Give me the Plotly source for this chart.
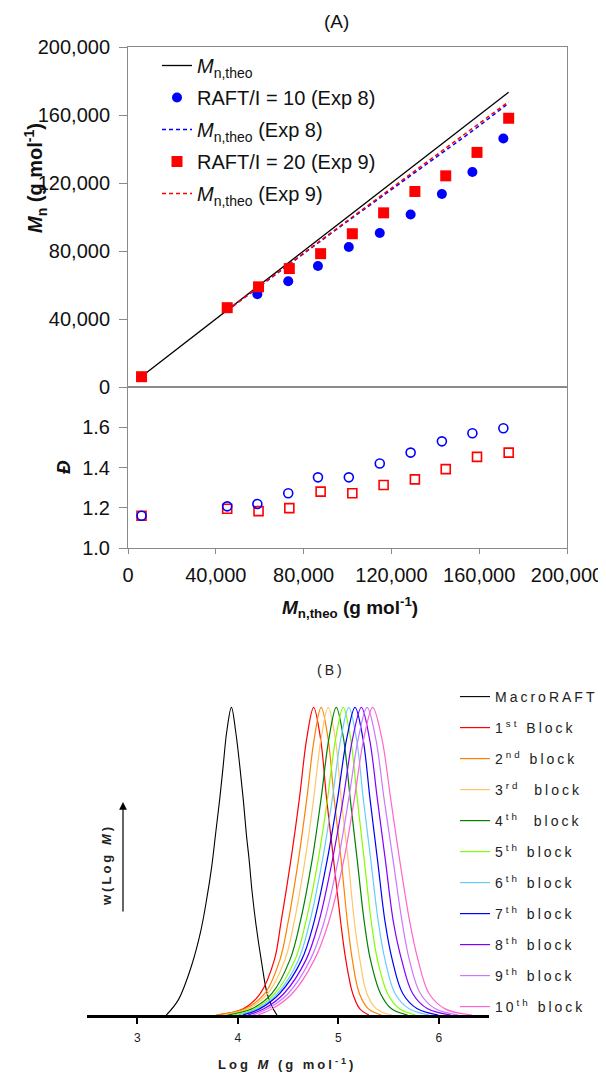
import plotly.graph_objects as go

W, H = 606, 1076
OFF = 8  # the page body adds an 8px margin around the plot div
FONT = "Liberation Sans, Arial, sans-serif"

# ── (A) data ─────────────────────────────────────────────────────────────────
theo_x = [6170, 45200, 59470, 73500, 87760, 102200, 116450, 130700, 144750, 159000, 173400]
theo_y = [6170, 45200, 59470, 73500, 87760, 102200, 116450, 130700, 144750, 159000, 173400]

exp8_x = [6170, 45200, 58930, 73000, 86540, 100600, 114700, 128760, 143000, 156900, 171000]
exp8_mn = [6060, 46650, 54630, 62240, 71220, 82340, 90540, 101460, 113500, 126500, 146200]
exp8_disp = [1.16, 1.207, 1.219, 1.272, 1.351, 1.351, 1.42, 1.474, 1.53, 1.57, 1.595]
exp8_theo_x = [45200, 58930, 73000, 86540, 100600, 114700, 128760, 143000, 156900, 172400]
exp8_theo_y = [45000, 58300, 71800, 84700, 98000, 111300, 124500, 137700, 150600, 165900]

exp9_x = [6170, 45200, 59470, 73500, 87760, 102200, 116450, 130700, 144750, 159000, 173430]
exp9_mn = [6060, 46650, 58930, 69660, 78440, 90150, 102440, 115020, 124210, 137990, 158090]
exp9_disp = [1.16, 1.195, 1.183, 1.198, 1.28, 1.272, 1.313, 1.341, 1.392, 1.453, 1.474]
exp9_theo_x = [45200, 59470, 73500, 87760, 102200, 116450, 130700, 144750, 159000, 173400]
exp9_theo_y = [45100, 59000, 72600, 86200, 100000, 113700, 127300, 140700, 154100, 167800]

mn_ticks = [0, 40000, 80000, 120000, 160000, 200000]
disp_ticks = [1.0, 1.2, 1.4, 1.6]

# ── (B) data: GPC traces ─────────────────────────────────────────────────────
macro_x = [3.29, 3.41, 3.54, 3.63, 3.69, 3.74, 3.78, 3.82, 3.855, 3.89, 3.937,
           3.98, 4.02, 4.055, 4.085, 4.113, 4.143, 4.183, 4.233, 4.292, 4.342, 4.39]
macro_w = [0, 0.05, 0.16, 0.27, 0.375, 0.48, 0.59, 0.70, 0.81, 0.92, 1.0,
           0.92, 0.81, 0.70, 0.59, 0.505, 0.40, 0.29, 0.18, 0.07, 0.027, 0]

block_w = [0, 0.02, 0.07, 0.18, 0.3, 0.5, 0.7, 0.9, 1.0, 0.9, 0.7, 0.5, 0.3, 0.18, 0.07, 0.02, 0]
block_x = [
    [3.795, 4.055, 4.225, 4.365, 4.43, 4.527, 4.612, 4.687, 4.755, 4.823, 4.885, 4.955, 5.025, 5.075, 5.144, 5.215, 5.305],
    [3.78, 4.07, 4.27, 4.42, 4.50, 4.602, 4.686, 4.762, 4.83, 4.898, 4.96, 5.03, 5.092, 5.14, 5.21, 5.30, 5.43],
    [3.85, 4.10, 4.30, 4.47, 4.56, 4.668, 4.754, 4.83, 4.90, 4.97, 5.03, 5.10, 5.162, 5.215, 5.285, 5.38, 5.53],
    [3.90, 4.14, 4.34, 4.52, 4.62, 4.738, 4.828, 4.908, 4.98, 5.052, 5.12, 5.19, 5.26, 5.32, 5.42, 5.53, 5.69],
    [3.95, 4.17, 4.37, 4.57, 4.675, 4.798, 4.892, 4.975, 5.05, 5.122, 5.19, 5.26, 5.33, 5.39, 5.49, 5.61, 5.77],
    [4.00, 4.195, 4.395, 4.605, 4.715, 4.841, 4.94, 5.027, 5.105, 5.18, 5.25, 5.325, 5.40, 5.465, 5.565, 5.705, 5.905],
    [4.05, 4.217, 4.417, 4.637, 4.757, 4.888, 4.992, 5.085, 5.167, 5.245, 5.317, 5.392, 5.467, 5.537, 5.642, 5.787, 5.997],
    [4.10, 4.26, 4.46, 4.68, 4.805, 4.94, 5.048, 5.144, 5.23, 5.31, 5.39, 5.47, 5.55, 5.63, 5.74, 5.89, 6.12],
    [4.15, 4.297, 4.502, 4.722, 4.857, 4.997, 5.103, 5.20, 5.287, 5.372, 5.457, 5.547, 5.637, 5.707, 5.817, 5.967, 6.197],
    [4.20, 4.343, 4.543, 4.763, 4.903, 5.053, 5.159, 5.255, 5.343, 5.433, 5.523, 5.613, 5.713, 5.793, 5.903, 6.063, 6.333],
]
block_names = ["1<sup>st</sup> Block", "2<sup>nd</sup> block", "3<sup>rd</sup>&nbsp; block",
               "4<sup>th</sup>&nbsp; block", "5<sup>th</sup> block", "6<sup>th</sup> block",
               "7<sup>th</sup> block", "8<sup>th</sup> block", "9<sup>th</sup> block",
               "10<sup>th</sup> block"]
block_colors = ["#FF0000", "#FF8000", "#FFC566", "#008000", "#80FF00",
                "#66CCFF", "#0000FF", "#8000FF", "#CC77FF", "#FF66CC"]
logm_ticks = [3, 4, 5, 6]


def px(x):
    return (x - OFF) / W


def py(y):
    return 1 - (y - OFF) / H


def sp(text, gap=3):
    return f"<span style='letter-spacing:{gap}px'>{text}</span>"


MN = "<i>M</i><sub>n,theo</sub>"

fig = go.Figure()

# top panel
fig.add_trace(go.Scatter(x=theo_x, y=theo_y, mode='lines', name=MN, legendgroup='a1',
                         line=dict(color='black', width=1.3), xaxis='x', yaxis='y'))
fig.add_trace(go.Scatter(x=exp8_x, y=exp8_mn, mode='markers', name='RAFT/I = 10 (Exp 8)',
                         legendgroup='a2',
                         marker=dict(color='#0000FF', size=10, symbol='circle'),
                         xaxis='x', yaxis='y'))
fig.add_trace(go.Scatter(x=exp8_theo_x, y=exp8_theo_y, mode='lines', name=MN + ' (Exp 8)',
                         legendgroup='a3',
                         line=dict(color='#0000FF', width=1.5, dash='4px,3px'),
                         xaxis='x', yaxis='y'))
fig.add_trace(go.Scatter(x=exp9_x, y=exp9_mn, mode='markers', name='RAFT/I = 20 (Exp 9)',
                         legendgroup='a4',
                         marker=dict(color='#FF0000', size=11, symbol='square'),
                         xaxis='x', yaxis='y'))
fig.add_trace(go.Scatter(x=exp9_theo_x, y=exp9_theo_y, mode='lines', name=MN + ' (Exp 9)',
                         legendgroup='a5',
                         line=dict(color='#FF0000', width=1.5, dash='4px,3px'),
                         xaxis='x', yaxis='y'))

# bottom panel (dispersity)
fig.add_trace(go.Scatter(x=exp9_x, y=exp9_disp, mode='markers', showlegend=False,
                         marker=dict(color='rgba(0,0,0,0)', size=9, symbol='square',
                                     line=dict(color='#FF0000', width=1.6)),
                         xaxis='x2', yaxis='y2'))
fig.add_trace(go.Scatter(x=exp8_x, y=exp8_disp, mode='markers', showlegend=False,
                         marker=dict(color='rgba(0,0,0,0)', size=9, symbol='circle',
                                     line=dict(color='#0000FF', width=1.6)),
                         xaxis='x2', yaxis='y2'))

# (B) GPC traces
fig.add_trace(go.Scatter(x=macro_x, y=macro_w, mode='lines', name=sp('MacroRAFT'),
                         legendgroup='b0',
                         line=dict(color='black', width=1.1, shape='spline'),
                         xaxis='x3', yaxis='y3', legend='legend2'))
for i, (xs, name, col) in enumerate(zip(block_x, block_names, block_colors)):
    fig.add_trace(go.Scatter(x=xs, y=block_w, mode='lines', name=sp(name),
                             legendgroup=f'b{i + 1}',
                             line=dict(color=col, width=1.2, shape='spline'),
                             xaxis='x3', yaxis='y3', legend='legend2'))

axis_a = dict(showgrid=False, zeroline=False, showline=True, mirror=True,
              linecolor='#8a8a8a', linewidth=1, tickcolor='#8a8a8a',
              tickfont=dict(size=20, color='#111', family=FONT), automargin=False)

fig.update_layout(
    width=W, height=H,
    margin=dict(l=0, r=0, t=0, b=0),
    paper_bgcolor='white', plot_bgcolor='white',
    font=dict(family=FONT, color='#111'),
    xaxis=dict(axis_a, domain=[px(128), px(567)], range=[0, 200000], anchor='y',
               showticklabels=False, ticks=''),
    yaxis=dict(axis_a, domain=[py(387), py(47)], range=[0, 200000], anchor='x',
               tickvals=mn_ticks, tickformat=',d', ticks='outside', ticklen=8,
               ticklabelstandoff=5),
    xaxis2=dict(axis_a, domain=[px(128), px(567)], range=[0, 200000], anchor='y2',
                tickvals=mn_ticks, tickformat=',d', ticks='outside', ticklen=5,
                ticklabelstandoff=4),
    yaxis2=dict(axis_a, domain=[py(548), py(387)], range=[1.0, 1.8], anchor='x2',
                tickvals=disp_ticks, tickformat='.1f', ticks='outside', ticklen=8,
                ticklabelstandoff=5),
    xaxis3=dict(domain=[px(87), px(489)], range=[2.5, 6.5], anchor='y3',
                showgrid=False, zeroline=False, showline=True, linecolor='black',
                linewidth=2.5, ticks='outside', ticklen=6, tickwidth=2, tickcolor='black',
                tickvals=logm_ticks, tickfont=dict(size=12, color='#222', family=FONT),
                ticklabelstandoff=4, automargin=False),
    yaxis3=dict(domain=[py(1015), py(692)], range=[0, 1.05], anchor='x3', visible=False),
    legend=dict(x=px(157), y=py(46), xanchor='left', yanchor='top', tracegroupgap=3,
                bgcolor='rgba(0,0,0,0)', font=dict(size=20, color='#111', family=FONT)),
    legend2=dict(x=px(455), y=py(681), xanchor='left', yanchor='top',
                 bgcolor='rgba(0,0,0,0)', tracegroupgap=9.8,
                 font=dict(size=14, color='#222', family=FONT)),
)

ann = [
    dict(text='(A)', x=px(336), y=py(22), font=dict(size=19)),
    dict(text='<b><i>M</i><sub>n</sub> (g mol<sup>-1</sup>)</b>', x=px(35), y=py(178),
         textangle=-90, font=dict(size=20)),
    dict(text='<b><i>Đ</i></b>', x=px(64), y=py(467), textangle=-90, font=dict(size=19)),
    dict(text='<b><i>M</i><sub>n,theo</sub> (g mol<sup>-1</sup>)</b>', x=px(350), y=py(607),
         font=dict(size=19)),
    dict(text=sp('(B)'), x=px(331), y=py(670), font=dict(size=14, color='#222')),
    dict(text=sp('<b>Log <i>M</i> (g mol<sup>-1</sup>)</b>'), x=px(287), y=py(1064),
         font=dict(size=13, color='#222')),
    dict(text=sp('<b>w(Log <i>M</i>)</b>'), x=px(106), y=py(865), textangle=-90,
         font=dict(size=13, color='#222')),
]
for a in ann:
    fig.add_annotation(xref='paper', yref='paper', showarrow=False,
                       xanchor='center', yanchor='middle', **a)

# arrow beside the w(Log M) label
fig.add_annotation(xref='paper', yref='paper', x=px(123), y=py(802), ax=0, ay=111,
                   text='', showarrow=True, arrowhead=2, arrowsize=1.3, arrowwidth=1.2,
                   arrowcolor='black')

fig.write_html("out.html")
